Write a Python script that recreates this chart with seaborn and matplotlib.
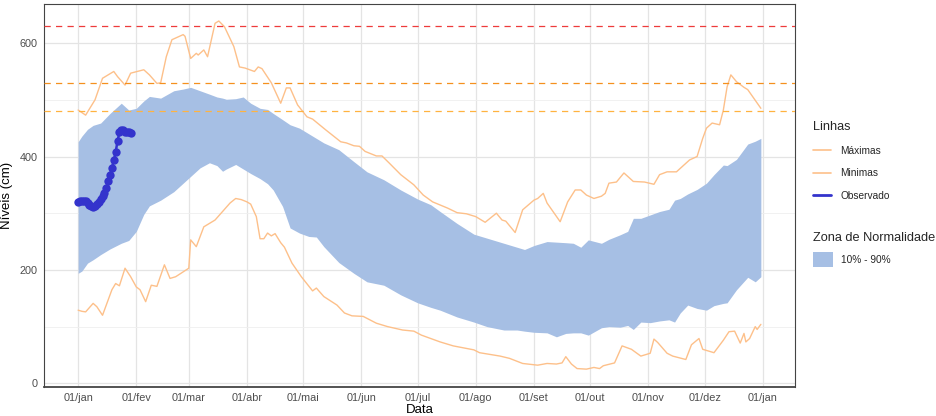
import numpy as np
import pandas as pd
import seaborn as sns
import matplotlib.pyplot as plt
from matplotlib.lines import Line2D
from matplotlib.patches import Patch

# ---- data (day of year, 0 = 01/jan) ----
dias_max = [0, 4, 9, 13, 19, 21, 25, 28, 35, 38, 42, 44, 47, 50, 56, 57, 60, 63, 64, 67,
            69, 73, 75, 78, 83, 86, 89, 94, 96, 98, 103, 108, 111, 113, 117, 122, 125, 132,
            140, 143, 147, 150, 153, 159, 162, 166, 172, 179, 184, 189, 197, 202, 207, 212,
            217, 223, 226, 228, 233, 237, 243, 245, 248, 250, 257, 261, 265, 268, 271, 275,
            279, 281, 283, 287, 291, 296, 302, 307, 310, 314, 319, 326, 330, 333, 335, 338,
            342, 344, 346, 348, 351, 355, 357, 364]
maximas = [482, 473, 500, 538, 550, 541, 526, 547, 553, 544, 529, 530, 576, 606, 615, 612,
           573, 582, 579, 588, 576, 635, 639, 629, 594, 558, 556, 550, 558, 555, 530, 494,
           521, 521, 491, 470, 466, 447, 426, 424, 419, 418, 409, 401, 401, 388, 368, 350,
           332, 320, 309, 301, 299, 294, 284, 300, 288, 286, 266, 306, 323, 326, 335, 318,
           285, 320, 341, 341, 332, 326, 330, 335, 353, 355, 371, 356, 355, 351, 368, 373,
           373, 394, 400, 432, 450, 459, 456, 482, 523, 544, 532, 522, 518, 485]

dias_min = [0, 2, 4, 8, 10, 13, 18, 20, 22, 25, 28, 31, 33, 36, 39, 42, 46, 49, 52, 59, 60,
            63, 67, 73, 77, 81, 84, 87, 90, 92, 95, 97, 99, 101, 103, 105, 108, 110, 114, 119,
            125, 127, 131, 138, 142, 146, 152, 159, 165, 173, 179, 183, 188, 193, 200, 211,
            214, 225, 230, 237, 245, 250, 255, 258, 260, 263, 266, 271, 275, 278, 280, 286,
            290, 295, 300, 305, 307, 309, 314, 317, 324, 327, 331, 333, 339, 344, 347, 350,
            353, 355, 356, 358, 361, 362, 364]
minimas = [129, 127, 126, 141, 135, 120, 165, 176, 172, 203, 188, 170, 165, 144, 173, 171,
           209, 185, 188, 203, 253, 241, 276, 288, 303, 318, 326, 324, 320, 316, 294, 255,
           255, 265, 260, 264, 248, 240, 212, 188, 163, 168, 153, 138, 124, 119, 118, 106,
           100, 94, 92, 85, 79, 73, 66, 59, 54, 48, 44, 35, 32, 35, 34, 36, 47, 34, 26, 25,
           28, 26, 31, 36, 66, 60, 48, 53, 78, 72, 53, 48, 42, 68, 79, 60, 54, 76, 91, 92,
           71, 88, 73, 79, 100, 95, 104]

dias_zona = [0, 2, 5, 8, 12, 17, 20, 23, 27, 31, 35, 38, 44, 51, 56, 60, 65, 70, 74, 77, 79,
             84, 88, 92, 97, 101, 104, 109, 113, 118, 123, 127, 131, 139, 147, 154, 163, 172,
             181, 188, 193, 202, 211, 218, 227, 234, 238, 243, 250, 255, 260, 264, 268, 272,
             279, 283, 289, 293, 296, 300, 305, 310, 315, 318, 321, 325, 330, 335, 339, 344,
             346, 351, 357, 361, 364]
p90 = [426, 436, 448, 455, 459, 476, 485, 494, 482, 485, 498, 506, 503, 516, 519, 522, 516,
       510, 505, 503, 501, 502, 505, 494, 485, 483, 476, 465, 456, 450, 440, 432, 424, 412,
       391, 373, 359, 341, 325, 315, 303, 282, 263, 256, 247, 240, 236, 243, 250, 249, 248,
       247, 240, 253, 247, 254, 262, 268, 291, 291, 297, 303, 307, 323, 326, 334, 342, 353,
       368, 385, 384, 395, 422, 427, 432]
p10 = [194, 198, 212, 218, 227, 237, 242, 247, 252, 268, 298, 313, 323, 338, 353, 365, 380,
       389, 384, 374, 378, 386, 378, 370, 361, 352, 341, 312, 274, 265, 259, 258, 241, 213,
       194, 179, 173, 156, 142, 134, 129, 117, 108, 100, 94, 94, 92, 90, 89, 82, 88, 89, 89,
       85, 98, 100, 99, 102, 95, 108, 107, 110, 112, 108, 124, 138, 132, 129, 137, 141, 142,
       165, 187, 179, 188]

dias_obs = list(range(29))
observado = [319, 321, 322, 322, 321, 318, 314, 312, 311, 313, 316, 320, 325, 330, 336, 345,
             356, 367, 380, 393, 408, 427, 443, 447, 446, 444, 443, 443, 442]

niveis_ref = [630, 530, 480]
cores_ref = ['#EE3B3B', '#F5901E', '#FFB340']

meses_dias = [0, 31, 59, 90, 120, 151, 181, 212, 243, 273, 304, 334, 365]
meses_rotulos = ['01/jan', '01/fev', '01/mar', '01/abr', '01/mai', '01/jun', '01/jul',
                 '01/ago', '01/set', '01/out', '01/nov', '01/dez', '01/jan']

cor_linhas = '#FDC08A'
cor_obs = '#3333CC'
cor_zona = '#A6BFE4'

# ---- style ----
sns.set_theme(style="white")
plt.rcParams['font.family'] = ['Liberation Sans', 'DejaVu Sans']

W, H = 936, 416
fig = plt.figure(figsize=(W / 100, H / 100), dpi=100)
ax = fig.add_axes([44 / W, 29 / H, 751 / W, 383 / H])

# normal zone band
ax.fill_between(dias_zona, p10, p90, color=cor_zona, linewidth=0, zorder=2)

# envelope lines
sns.lineplot(x=dias_max, y=maximas, color=cor_linhas, linewidth=1.0, ax=ax, zorder=3)
sns.lineplot(x=dias_min, y=minimas, color=cor_linhas, linewidth=1.0, ax=ax, zorder=3)

# reference levels
for nivel, cor in zip(niveis_ref, cores_ref):
    ax.axhline(nivel, color=cor, linewidth=0.9, linestyle=(0, (5.0, 4.2)), zorder=3)

# observed series
sns.lineplot(x=dias_obs, y=observado, color=cor_obs, linewidth=1.8, marker='o',
             markersize=6.0, markeredgewidth=0, ax=ax, zorder=5)

# axes
ax.set_xlim(-18.2, 382.2)
ax.set_ylim(-6.5, 669)
ax.set_xticks(meses_dias)
ax.set_xticklabels(meses_rotulos)
ax.set_yticks([0, 200, 400, 600])
ax.set_yticks([100, 300, 500], minor=True)
ax.grid(True, which='major', color='#E4E4E4', linewidth=0.9, zorder=0)
ax.grid(True, which='minor', axis='y', color='#EFEFEF', linewidth=0.6, zorder=0)
ax.set_axisbelow(True)
ax.tick_params(axis='both', which='major', direction='out', length=2.5, width=0.8,
               color='#333333', labelcolor='#4D4D4D', labelsize=7.8, pad=2)
ax.tick_params(axis='y', which='minor', length=0)
for nome, sp in ax.spines.items():
    sp.set_color('#444444')
    sp.set_linewidth(1.3 if nome == 'bottom' else 0.8)

ax.set_xlabel('Data', fontsize=9.5, color='black', labelpad=0.8)
ax.set_ylabel('Níveis (cm)', fontsize=9.5, color='black', labelpad=5)

# legends
h_linhas = [Line2D([], [], color=cor_linhas, linewidth=1.2),
            Line2D([], [], color=cor_linhas, linewidth=1.2),
            Line2D([], [], color=cor_obs, linewidth=2.0)]
leg1 = fig.legend(h_linhas, ['Máximas', 'Minimas', 'Observado'], title='Linhas',
                  loc='upper left', bbox_to_anchor=(813 / W, 1 - 121.5 / H),
                  frameon=False, fontsize=7.3, title_fontsize=9.2, alignment='left',
                  borderpad=0, borderaxespad=0, handlelength=1.8, handletextpad=0.9,
                  labelspacing=1.22)
h_zona = [Patch(facecolor=cor_zona, edgecolor='none')]
leg2 = fig.legend(h_zona, ['10% - 90%'], title='Zona de Normalidade',
                  loc='upper left', bbox_to_anchor=(813 / W, 1 - 232 / H),
                  frameon=False, fontsize=7.3, title_fontsize=9.2, alignment='left',
                  borderpad=0, borderaxespad=0, handlelength=2.0, handleheight=2.0,
                  handletextpad=0.75, labelspacing=0.75)

fig.savefig('out.png', dpi=100)
